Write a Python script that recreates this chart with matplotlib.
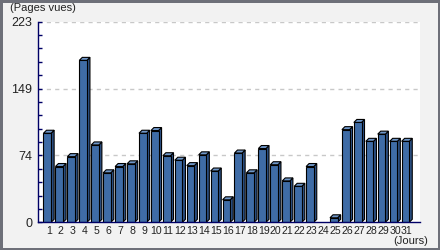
import matplotlib.pyplot as plt
from matplotlib.patches import Polygon
from matplotlib.ticker import FixedLocator, MultipleLocator

days = list(range(1, 32))
views = [99, 62, 73, 180, 86, 55, 62, 65, 99, 102, 74, 69, 63, 75, 57, 25,
         77, 55, 82, 64, 46, 40, 62, 0, 5, 103, 111, 90, 98, 90, 90]
ymax = 223
ytick_vals = [0, ymax / 3, 2 * ymax / 3, ymax]
ytick_labels = ['0', '74', '149', '223']

plt.rcParams['font.family'] = ['Liberation Sans', 'DejaVu Sans']

dpi = 100
fig = plt.figure(figsize=(440 / dpi, 250 / dpi), dpi=dpi,
                 facecolor='#f2f2f2', edgecolor='#6e7079', linewidth=3.6)
ax = fig.add_axes([38 / 440, 27.7 / 250, 382 / 440, 200.6 / 250])
ax.set_facecolor('white')

ax.set_xlim(0.1, 32.1)
ax.set_ylim(0, ymax)

# depth of the fake 3d effect, in data units (~3 px)
px_x = 11.94
px_y = 200.6 / ymax
dx = 3 / px_x
dy = 3 / px_y
w = 0.64

for g in ytick_vals[1:]:
    ax.axhline(g, color='#c8c8c8', lw=1, ls=(0, (3, 3)), zorder=0)

for d, v in zip(days, views):
    if v <= 0:
        continue
    x0 = d - 0.12 - w / 2
    x1 = x0 + w
    ax.add_patch(Polygon([(x1, 0), (x1, v), (x1 + dx, v + dy), (x1 + dx, dy)],
                         closed=True, facecolor='#2c5185', edgecolor='black', lw=0.8, zorder=2))
    ax.add_patch(Polygon([(x0, v), (x0 + dx, v + dy), (x1 + dx, v + dy), (x1, v)],
                         closed=True, facecolor='#6f97c9', edgecolor='black', lw=0.8, zorder=2))
    ax.bar(d - 0.12, v, width=w, color='#3f6ca6', edgecolor='black', lw=0.8, zorder=3)

for s in ['top', 'right']:
    ax.spines[s].set_visible(False)
for s in ['left', 'bottom']:
    ax.spines[s].set_color('#000066')
    ax.spines[s].set_linewidth(1)
    ax.spines[s].set_zorder(4)

ax.yaxis.set_major_locator(FixedLocator(ytick_vals))
ax.set_yticklabels(ytick_labels)
ax.yaxis.set_minor_locator(MultipleLocator(ymax / 15))
ax.tick_params(axis='y', which='both', direction='in', length=3, width=1,
               color='#000066', labelsize=9, labelcolor='#222222', pad=4)
ax.set_xticks(days)
ax.set_xticklabels([str(d) for d in days])
ax.tick_params(axis='x', length=0, labelsize=7.6, labelcolor='#222222', pad=3)

fig.text(10 / 440, 1 - 8 / 250, '(Pages vues)', fontsize=8, color='#222222',
         ha='left', va='center')
fig.text(428 / 440, 1 - 241 / 250, '(Jours)', fontsize=8, color='#222222',
         ha='right', va='center')

fig.savefig('out.png', dpi=dpi, facecolor=fig.get_facecolor(), edgecolor=fig.get_edgecolor())
